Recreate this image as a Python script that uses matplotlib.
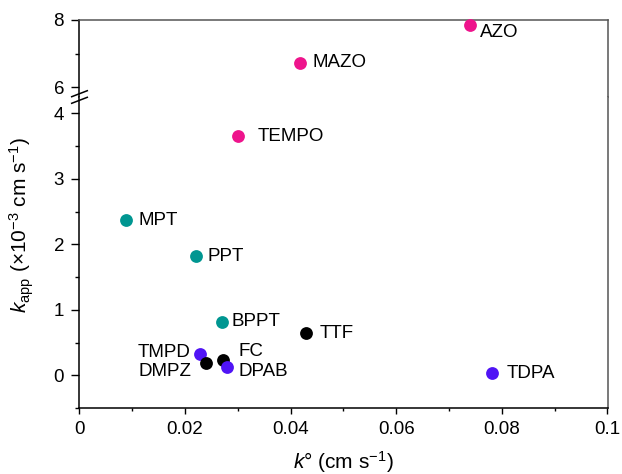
import matplotlib
matplotlib.use("Agg")
import matplotlib.pyplot as plt
from matplotlib.lines import Line2D
from matplotlib.ticker import MultipleLocator

plt.rcParams['font.family'] = ['Liberation Sans', 'DejaVu Sans']
plt.rcParams['mathtext.fontset'] = 'custom'
plt.rcParams['mathtext.rm'] = 'Liberation Sans'
plt.rcParams['mathtext.it'] = 'Liberation Sans:italic'
plt.rcParams['font.size'] = 13.5

names = ['AZO', 'MAZO', 'TEMPO', 'MPT', 'PPT', 'BPPT', 'TTF', 'TMPD', 'DMPZ', 'FC', 'DPAB', 'TDPA']
k0 = [0.0740, 0.0418, 0.0301, 0.0089, 0.0221, 0.0270, 0.0430, 0.0229, 0.0240, 0.0273, 0.0280, 0.0781]
kapp = [7.85, 6.72, 3.65, 2.37, 1.82, 0.82, 0.64, 0.32, 0.19, 0.23, 0.13, 0.03]
groups = ['pink', 'pink', 'pink', 'teal', 'teal', 'teal', 'black', 'blue', 'black', 'black', 'blue', 'blue']
palette = {'pink': '#EE148C', 'teal': '#009691', 'black': '#000000', 'blue': '#5014F5'}
# label offsets in pixels (dx, dy) and horizontal alignment
offsets = {'AZO': (10, -7, 'left'), 'MAZO': (12, 0, 'left'), 'TEMPO': (19, 0, 'left'),
           'MPT': (12, 0, 'left'), 'PPT': (11, 0, 'left'), 'BPPT': (10, 0, 'left'),
           'TTF': (13, 0, 'left'), 'TMPD': (-10, 2, 'right'), 'DMPZ': (-15, -9, 'right'),
           'FC': (15, 9, 'left'), 'DPAB': (11, -5, 'left'), 'TDPA': (15, 0, 'left')}

W, H = 622, 474
fig = plt.figure(figsize=(W / 100, H / 100), dpi=100)
left, right = 79.3 / W, 607.5 / W
ytop, ysplit, ybot = 20, 97, 408
ax_top = fig.add_axes([left, 1 - ysplit / H, right - left, (ysplit - ytop) / H])
ax_bot = fig.add_axes([left, 1 - ybot / H, right - left, (ybot - ysplit) / H])

for ax in (ax_top, ax_bot):
    for n, x, y, g in zip(names, k0, kapp, groups):
        ax.scatter([x], [y], s=85, color=palette[g], zorder=3, linewidths=0, clip_on=False)
    ax.set_xlim(0, 0.1)
    ax.spines['left'].set_color('black')
    ax.spines['bottom'].set_color('black')
    ax.spines['right'].set_color('#555555')
    ax.spines['top'].set_color('#555555')
    for s in ax.spines.values():
        s.set_linewidth(1.1)
    ax.tick_params(axis='y', which='major', length=6, width=1, direction='out', pad=5, labelsize=13.5)
    ax.tick_params(axis='y', which='minor', length=3, width=1, direction='out')
    ax.tick_params(axis='x', which='major', length=4, width=1, direction='out', pad=5, labelsize=13.5)
    ax.tick_params(axis='x', which='minor', length=2.5, width=1, direction='out')
    ax.tick_params(right=False, top=False, which='both')

ax_top.set_ylim(8 - (ysplit - ytop) / 33.5, 8)
ax_top.yaxis.set_major_locator(MultipleLocator(2))
ax_top.yaxis.set_minor_locator(MultipleLocator(1))
ax_top.spines['bottom'].set_visible(False)
ax_top.tick_params(axis='x', which='both', bottom=False, labelbottom=False)

ax_bot.set_ylim(-0.5, -0.5 + (ybot - ysplit) / 65.5)
ax_bot.yaxis.set_major_locator(MultipleLocator(1))
ax_bot.yaxis.set_minor_locator(MultipleLocator(0.5))
ax_bot.xaxis.set_major_locator(MultipleLocator(0.02))
ax_bot.xaxis.set_minor_locator(MultipleLocator(0.01))
ax_bot.set_xticklabels(['0' if abs(v) < 1e-9 else ('0.1' if abs(v - 0.1) < 1e-9 else f'{v:.2f}')
                        for v in ax_bot.get_xticks()])
ax_bot.spines['top'].set_visible(False)

for n, x, y in zip(names, k0, kapp):
    ax = ax_top if y > 5 else ax_bot
    dx, dy, ha = offsets[n]
    ax.annotate(n, (x, y), xytext=(dx, dy), textcoords='offset pixels',
                ha=ha, va='center', fontsize=13.5, zorder=4, annotation_clip=False)

# break marks on the left axis
def px(xp, yp):
    return xp / W, 1 - yp / H
for y0 in (96.7, 103.3):
    p1 = px(71.7, y0)
    p2 = px(87.3, y0 - 6)
    fig.add_artist(Line2D([p1[0], p2[0]], [p1[1], p2[1]], color='black', lw=1.1,
                          transform=fig.transFigure))

fig.text(343 / W, 1 - 462 / H, r'$k$° (cm s$^{-1}$)', ha='center', va='center', fontsize=15)
fig.text(22 / W, 1 - 225 / H, r'$k_{\mathrm{app}}$ (×10$^{-3}$ cm s$^{-1}$)', ha='center', va='center',
         rotation=90, fontsize=15)

fig.savefig('out.png', dpi=100)
